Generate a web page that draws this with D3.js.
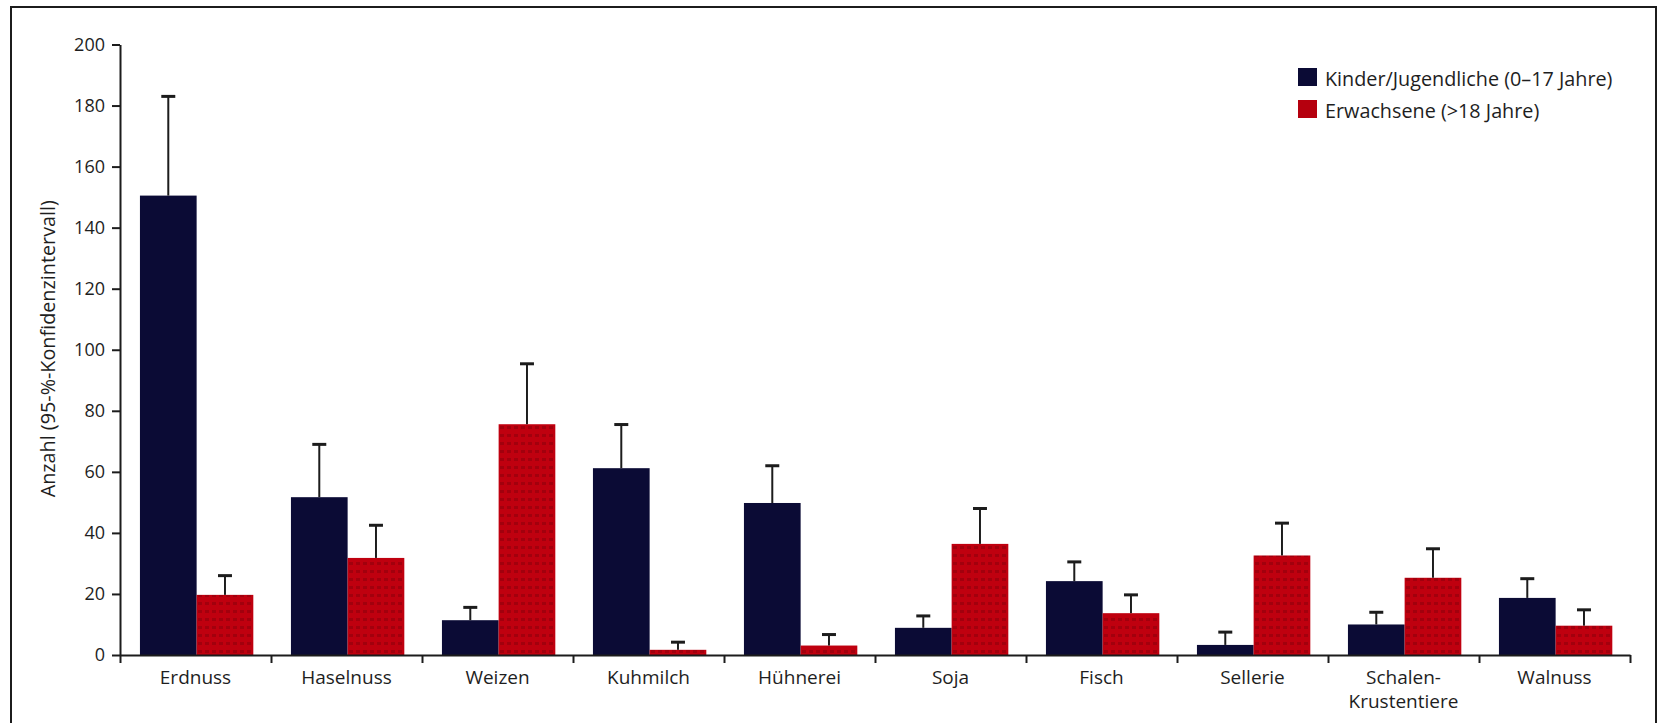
<!DOCTYPE html>
<html>
<head>
<meta charset="utf-8">
<script src="https://cdn.jsdelivr.net/npm/d3@7"></script>
<style>
  html, body { margin: 0; padding: 0; background: #fff; }
  svg { display: block; font-family: "Open Sans", Lato, sans-serif; }
</style>
</head>
<body>
<svg id="chart" width="1659" height="723"></svg>
<script>
// Allergen categories (a "\n" breaks the label onto two lines)
const categories = ["Erdnuss", "Haselnuss", "Weizen", "Kuhmilch", "Hühnerei", "Soja", "Fisch", "Sellerie", "Schalen-\nKrustentiere", "Walnuss"];
const seriesNames = ["Kinder/Jugendliche (0–17 Jahre)", "Erwachsene (>18 Jahre)"];

// Counts per group and the upper end of the 95 % confidence interval
const kinderValues      = [150.5, 51.7, 11.4, 61.2, 49.8, 8.9, 24.2, 3.3, 10.0, 18.7];
const kinderUpper       = [183.0, 69.0, 15.6, 75.5, 62.0, 12.8, 30.5, 7.5, 14.0, 25.0];
const erwachseneValues  = [19.7, 31.8, 75.6, 1.7, 3.1, 36.4, 13.7, 32.6, 25.3, 9.6];
const erwachseneUpper   = [26.0, 42.5, 95.4, 4.2, 6.7, 48.0, 19.7, 43.2, 34.8, 14.8];

const yTicks = [0, 20, 40, 60, 80, 100, 120, 140, 160, 180, 200];
const yTitle = "Anzahl (95-%-Konfidenzintervall)";

const W = 1659, H = 723;
const plot = { left: 120, right: 1630, top: 44.5, bottom: 655 };
const ink = "#1c1c1c";
const textInk = "#1e1e1e";
const seriesColors = ["#0b0b35", "url(#redTexture)"];
const legendColors = ["#0b0b35", "#b5000e"];

const svg = d3.select("#chart");
svg.append("rect").attr("width", W).attr("height", H).attr("fill", "#fff");

// printed red fill with a fine halftone texture
const defs = svg.append("defs");
const pat = defs.append("pattern")
  .attr("id", "redTexture").attr("patternUnits", "userSpaceOnUse")
  .attr("width", 7).attr("height", 8);
pat.append("rect").attr("width", 7).attr("height", 8).attr("fill", "#bf000f");
pat.append("rect").attr("x", 1).attr("y", 2).attr("width", 4).attr("height", 3)
  .attr("fill", "#86000b").attr("opacity", 0.5);

// outer frame
svg.append("path")
  .attr("d", `M11,${H} L11,7 L1656,7 L1656,${H}`)
  .attr("fill", "none").attr("stroke", ink).attr("stroke-width", 2);

// scales
const y = d3.scaleLinear().domain([0, 200]).range([plot.bottom, plot.top]);
const x0 = d3.scaleBand().domain(categories).range([plot.left, plot.right]).padding(0);
const x1 = d3.scaleBand().domain([0, 1]).range([0, x0.bandwidth()])
  .paddingInner(0).paddingOuter(0.332).align(0.53);
const xBound = d3.scaleLinear().domain([0, categories.length]).range([plot.left, plot.right]);

const rows = categories.map((c, i) => ({
  cat: c,
  vals: [
    { s: 0, v: kinderValues[i], hi: kinderUpper[i] },
    { s: 1, v: erwachseneValues[i], hi: erwachseneUpper[i] }
  ]
}));

const g = svg.append("g");

// bars
const grp = g.selectAll("g.cat").data(rows).join("g")
  .attr("class", "cat")
  .attr("transform", d => `translate(${x0(d.cat)},0)`);

grp.selectAll("rect.bar").data(d => d.vals).join("rect")
  .attr("class", "bar")
  .attr("x", d => x1(d.s))
  .attr("width", x1.bandwidth())
  .attr("y", d => y(d.v))
  .attr("height", d => y(0) - y(d.v))
  .attr("fill", d => seriesColors[d.s]);

// error bars (upper half only)
const capW = 14;
grp.selectAll("line.err").data(d => d.vals).join("line")
  .attr("class", "err")
  .attr("x1", d => x1(d.s) + x1.bandwidth() / 2)
  .attr("x2", d => x1(d.s) + x1.bandwidth() / 2)
  .attr("y1", d => y(d.v))
  .attr("y2", d => y(d.hi))
  .attr("stroke", ink).attr("stroke-width", 2);
grp.selectAll("line.cap").data(d => d.vals).join("line")
  .attr("class", "cap")
  .attr("x1", d => x1(d.s) + x1.bandwidth() / 2 - capW / 2)
  .attr("x2", d => x1(d.s) + x1.bandwidth() / 2 + capW / 2)
  .attr("y1", d => y(d.hi))
  .attr("y2", d => y(d.hi))
  .attr("stroke", ink).attr("stroke-width", 3);

// y axis
const yAxis = g.append("g")
  .attr("transform", `translate(${plot.left},0)`)
  .call(d3.axisLeft(y).tickValues(yTicks).tickSize(8).tickPadding(7).tickSizeOuter(0));
yAxis.select(".domain").attr("stroke", ink).attr("stroke-width", 2);
yAxis.selectAll(".tick line").attr("stroke", ink).attr("stroke-width", 2);
yAxis.selectAll(".tick text")
  .attr("fill", textInk).style("font-size", "18px").style("font-family", "'Open Sans', sans-serif");

// x axis: ticks sit on the boundaries between categories
const xAxis = g.append("g")
  .attr("transform", `translate(0,${plot.bottom})`)
  .call(d3.axisBottom(xBound).tickValues(d3.range(categories.length + 1))
    .tickSize(8).tickSizeOuter(0).tickFormat(""));
xAxis.select(".domain").attr("stroke", ink).attr("stroke-width", 2);
xAxis.selectAll(".tick line").attr("stroke", ink).attr("stroke-width", 2);

// category labels
const lbl = g.selectAll("text.xlab").data(categories).join("text")
  .attr("class", "xlab")
  .attr("x", d => x0(d) + x0.bandwidth() / 2)
  .attr("y", plot.bottom + 29)
  .attr("text-anchor", "middle")
  .attr("fill", textInk)
  .style("font-size", "19px");
lbl.selectAll("tspan").data(d => d.split("\n")).join("tspan")
  .attr("x", function () { return this.parentNode.getAttribute("x"); })
  .attr("dy", (d, i) => i === 0 ? 0 : 24)
  .text(d => d);

// y axis title
g.append("text")
  .attr("transform", `translate(55,${(plot.top + plot.bottom) / 2 - 1})  rotate(-90)`)
  .attr("text-anchor", "middle")
  .attr("fill", textInk)
  .style("font-size", "19.8px")
  .text(yTitle);

// legend
const leg = svg.append("g").attr("transform", "translate(1298,68)");
const items = leg.selectAll("g").data(seriesNames).join("g")
  .attr("transform", (d, i) => `translate(0,${i * 32})`);
items.append("rect").attr("width", 19).attr("height", 18)
  .attr("fill", (d, i) => legendColors[i]);
items.append("text").attr("x", 27).attr("y", 17.5)
  .attr("fill", textInk).style("font-size", "19.8px")
  .text(d => d);
</script>
</body>
</html>
